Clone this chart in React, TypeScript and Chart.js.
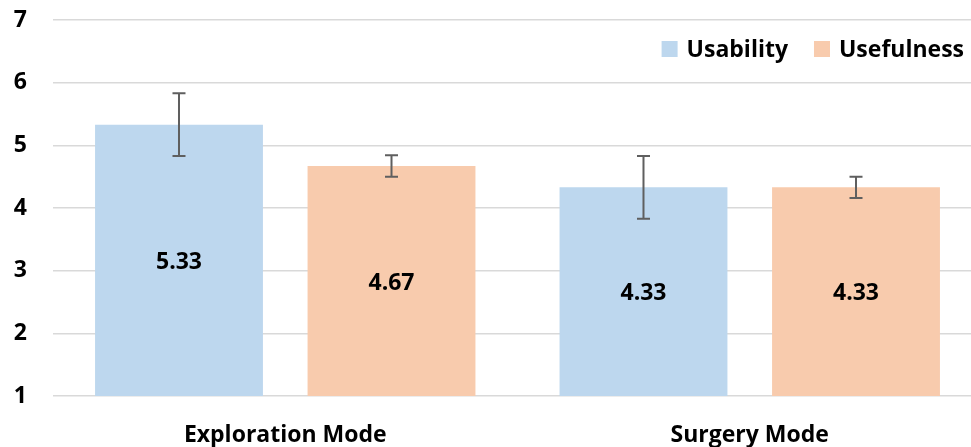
import React, { useEffect, useRef } from "react";
import { Chart, registerables } from "chart.js";

Chart.register(...registerables);

const categories = ["Exploration Mode", "Surgery Mode"];
const seriesNames = ["Usability", "Usefulness"];
const usability = [5.33, 4.33];
const usefulness = [4.67, 4.33];
const usabilityErr = [0.5, 0.5];
const usefulnessErr = [0.17, 0.17];
const yTicks = [1, 2, 3, 4, 5, 6, 7];
const seriesColors = ["#BDD7EE", "#F8CBAD"];

const FONT = "'Open Sans', sans-serif";
const FSIZE = 23;

const errorBarPlugin = {
  id: "errorBars",
  afterDatasetsDraw(chart: any) {
    const ctx = chart.ctx;
    const y = chart.scales.y;
    chart.data.datasets.forEach((ds: any, di: number) => {
      const meta = chart.getDatasetMeta(di);
      meta.data.forEach((bar: any, i: number) => {
        const v = ds.data[i];
        const e = ds.errors[i];
        const top = y.getPixelForValue(v + e);
        const bot = y.getPixelForValue(v - e);
        const x = bar.x;
        ctx.save();
        ctx.strokeStyle = "#5f5f5f";
        ctx.lineWidth = 2;
        ctx.beginPath();
        ctx.moveTo(x, top);
        ctx.lineTo(x, bot);
        ctx.moveTo(x - 6.5, top);
        ctx.lineTo(x + 6.5, top);
        ctx.moveTo(x - 6.5, bot);
        ctx.lineTo(x + 6.5, bot);
        ctx.stroke();
        ctx.restore();
      });
    });
  },
};

const valueLabelPlugin = {
  id: "valueLabels",
  afterDatasetsDraw(chart: any) {
    const ctx = chart.ctx;
    const y = chart.scales.y;
    const basePx = y.getPixelForValue(y.min);
    chart.data.datasets.forEach((ds: any, di: number) => {
      const meta = chart.getDatasetMeta(di);
      meta.data.forEach((bar: any, i: number) => {
        ctx.save();
        ctx.fillStyle = "#000";
        ctx.font = `bold ${FSIZE}px ${FONT}`;
        ctx.textAlign = "center";
        ctx.textBaseline = "middle";
        ctx.fillText(ds.data[i].toFixed(2), bar.x, (bar.y + basePx) / 2 + 2);
        ctx.restore();
      });
    });
  },
};

const legendPlugin = {
  id: "customLegend",
  afterDraw(chart: any) {
    const ctx = chart.ctx;
    const area = chart.chartArea;
    ctx.save();
    ctx.font = `bold ${FSIZE}px ${FONT}`;
    ctx.textBaseline = "middle";
    ctx.textAlign = "left";
    const cy = area.top + 29;
    const box = 16;
    const gapText = 9;
    const gapItem = 26;
    const rightEnd = 964;
    const items = chart.data.datasets.map((ds: any) => ({
      label: ds.label,
      color: ds.backgroundColor,
      w: ctx.measureText(ds.label).width,
    }));
    let total = 0;
    items.forEach((it: any, i: number) => {
      total += box + gapText + it.w + (i < items.length - 1 ? gapItem : 0);
    });
    let x = rightEnd - total;
    items.forEach((it: any) => {
      ctx.fillStyle = it.color;
      ctx.fillRect(x, cy - box / 2, box, box);
      ctx.fillStyle = "#000";
      ctx.fillText(it.label, x + box + gapText, cy + 1);
      x += box + gapText + it.w + gapItem;
    });
    ctx.restore();
  },
};

export default function App() {
  const ref = useRef<HTMLCanvasElement | null>(null);
  useEffect(() => {
    document.body.style.margin = "0";
    document.body.style.overflow = "hidden";
    const chart = new Chart(ref.current as HTMLCanvasElement, {
      type: "bar",
      data: {
        labels: categories,
        datasets: [
          {
            label: seriesNames[0],
            data: usability,
            errors: usabilityErr,
            backgroundColor: seriesColors[0],
            categoryPercentage: 0.915,
            barPercentage: 0.79,
          } as any,
          {
            label: seriesNames[1],
            data: usefulness,
            errors: usefulnessErr,
            backgroundColor: seriesColors[1],
            categoryPercentage: 0.915,
            barPercentage: 0.79,
          } as any,
        ],
      },
      options: {
        animation: false,
        responsive: false,
        maintainAspectRatio: false,
        layout: { padding: { top: 20, right: 0, left: 0, bottom: 0 } },
        plugins: {
          tooltip: { enabled: false },
          legend: { display: false },
        },
        scales: {
          x: {
            grid: { display: false },
            border: { display: false },
            afterFit: (s: any) => {
              s.height = 51;
              s.paddingLeft = 0;
              s.paddingRight = 0;
            },
            ticks: {
              color: "#000",
              padding: 18,
              font: { family: FONT, size: FSIZE, weight: "bold" },
            },
          },
          y: {
            min: 1,
            max: 7,
            afterFit: (s: any) => {
              s.width = 53;
              s.paddingTop = 0;
              s.paddingBottom = 0;
            },
            afterBuildTicks: (s: any) => {
              s.ticks = yTicks.map((v) => ({ value: v }));
            },
            grid: { color: "#d9d9d9", lineWidth: 1.5, drawTicks: false },
            border: { display: false },
            ticks: {
              color: "#000",
              padding: 26,
              font: { family: FONT, size: FSIZE, weight: "bold" },
            },
          },
        },
      },
      plugins: [errorBarPlugin, valueLabelPlugin, legendPlugin],
    });
    return () => chart.destroy();
  }, []);
  return (
    <div style={{ position: "fixed", left: 0, top: 0, width: 982, height: 447 }}>
      <canvas ref={ref} width={982} height={447} style={{ width: 982, height: 447 }} />
    </div>
  );
}
